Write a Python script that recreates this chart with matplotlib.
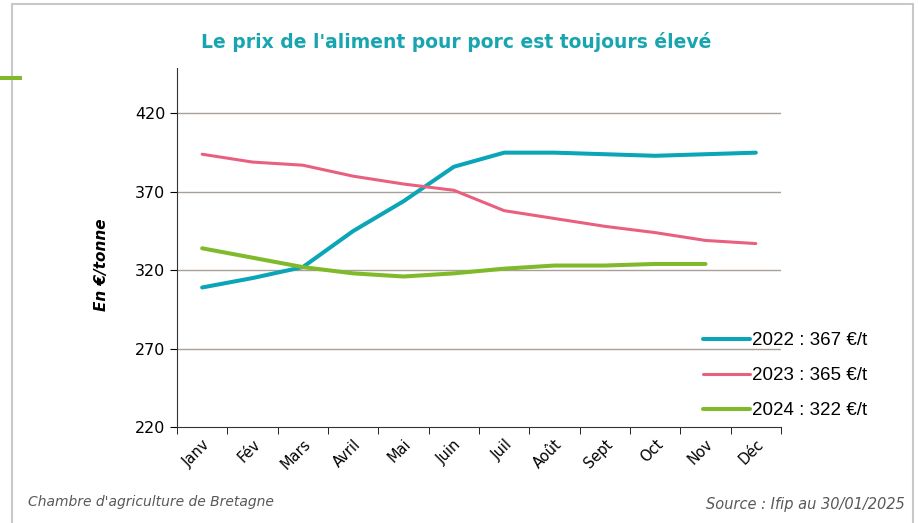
import matplotlib.pyplot as plt
from matplotlib.patches import Rectangle
import numpy as np

months = ["Janv", "Fév", "Mars", "Avril", "Mai", "Juin", "Juil", "Août",
          "Sept", "Oct", "Nov", "Déc"]
prix_2022 = [309, 315, 322, 345, 364, 386, 395, 395, 394, 393, 394, 395]
prix_2023 = [394, 389, 387, 380, 375, 371, 358, 353, 348, 344, 339, 337]
prix_2024 = [334, 328, 322, 318, 316, 318, 321, 323, 323, 324, 324]
labels = ["2022 : 367 €/t", "2023 : 365 €/t", "2024 : 322 €/t"]
colors = ["#0aa5b7", "#e9607e", "#80b929"]
yticks = [220, 270, 320, 370, 420]

fig = plt.figure(figsize=(9.18, 5.23), dpi=100)

# frame and green marker at left
fig.patches.append(Rectangle((12/918, -0.05), 901/918, 1.05 - 4/523, transform=fig.transFigure,
                             fill=False, edgecolor="#c8c8c8", linewidth=1.5))
fig.patches.append(Rectangle((0, 1 - 80/523), 22/918, 4/523, transform=fig.transFigure,
                             facecolor="#80b929", edgecolor="none"))

ax = fig.add_axes([177/918, 1 - 427/523, 604/918, 359/523])
x = np.arange(len(months))
ax.plot(x, prix_2022, color=colors[0], lw=2.9, solid_capstyle="round", label=labels[0])
ax.plot(x, prix_2023, color=colors[1], lw=2.2, solid_capstyle="round", label=labels[1])
ax.plot(np.arange(len(prix_2024)), prix_2024, color=colors[2], lw=2.9,
        solid_capstyle="round", label=labels[2])

ax.set_xlim(-0.5, 11.5)
ax.set_ylim(220, 449)
ax.set_yticks(yticks)
ax.set_yticklabels([str(v) for v in yticks], fontsize=11.5, family="DejaVu Sans")
for v in yticks[1:]:
    ax.axhline(v, color="#a8a098", lw=1, zorder=0)

ax.set_xticks(x)
ax.set_xticklabels(months, rotation=45, ha="right", rotation_mode="anchor",
                   fontsize=10.5, family="DejaVu Sans")
ax.set_xticks(np.arange(-0.5, 12, 1), minor=True)
ax.tick_params(axis="x", which="major", length=0, pad=7)
ax.tick_params(axis="x", which="minor", length=5, direction="out")
ax.tick_params(axis="y", length=5, direction="out")

for s in ["top", "right"]:
    ax.spines[s].set_visible(False)
ax.spines["left"].set_color("#333333")
ax.spines["bottom"].set_color("#333333")

ax.set_ylabel("En €/tonne", fontsize=11, fontweight="bold", style="italic")
ax.yaxis.set_label_coords(-0.1126, 0.451)

leg = ax.legend(loc="lower left", bbox_to_anchor=(0.843, -0.025), frameon=False,
                handlelength=2.5, handletextpad=0.1, labelspacing=0.95,
                prop={"family": "Liberation Sans", "size": 13.5})

fig.text(456/918, 1 - 42/523, "Le prix de l'aliment pour porc est toujours élevé",
         ha="center", va="center", fontsize=13.5, fontweight="bold", color="#19a5b0")
fig.text(28/918, 1 - 502/523, "Chambre d'agriculture de Bretagne", ha="left", va="center",
         fontsize=10, style="italic", color="#595959")
fig.text(905/918, 1 - 505/523, "Source : Ifip au 30/01/2025", ha="right", va="center",
         fontsize=10.5, style="italic", color="#595959")

fig.savefig("out.png", dpi=100)
